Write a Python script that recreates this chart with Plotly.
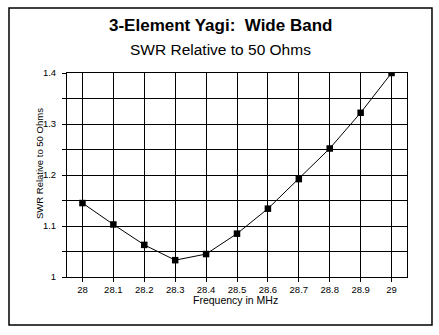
import plotly.graph_objects as go

# Frequency sweep (MHz) and measured SWR
freq_mhz = [28.0, 28.1, 28.2, 28.3, 28.4, 28.5, 28.6, 28.7, 28.8, 28.9, 29.0]
swr = [1.145, 1.103, 1.063, 1.033, 1.045, 1.085, 1.134, 1.192, 1.252, 1.322, 1.400]

x_ticks = [28.0, 28.1, 28.2, 28.3, 28.4, 28.5, 28.6, 28.7, 28.8, 28.9, 29.0]
x_tick_labels = ["28", "28.1", "28.2", "28.3", "28.4", "28.5", "28.6", "28.7", "28.8", "28.9", "29"]
y_ticks = [1.0, 1.05, 1.1, 1.15, 1.2, 1.25, 1.3, 1.35, 1.4]
y_tick_labels = ["1", "", "1.1", "", "1.2", "", "1.3", "", "1.4"]

title_text = "<b>3-Element Yagi:\u00a0 Wide Band</b>"
subtitle_text = "SWR Relative to 50 Ohms"
x_title = "Frequency in MHz"
y_title = "SWR Relative to 50 Ohms"

FONT = "Arial, Liberation Sans, sans-serif"

fig = go.Figure()
fig.add_trace(go.Scatter(
    x=freq_mhz, y=swr, mode="lines+markers",
    line=dict(color="black", width=1),
    marker=dict(symbol="square", size=6.5, color="black"),
    hoverinfo="x+y", showlegend=False,
))

axis_common = dict(
    showgrid=True, gridcolor="black", gridwidth=1,
    showline=True, linecolor="black", linewidth=1, mirror=True,
    ticks="outside", ticklen=4, tickcolor="black", tickwidth=1,
    tickfont=dict(family=FONT, size=9.5, color="black"),
    zeroline=False, fixedrange=True,
)

fig.update_xaxes(range=[27.95, 29.05], tickmode="array",
                 tickvals=x_ticks, ticktext=x_tick_labels, **axis_common)
fig.update_yaxes(range=[1.0, 1.4], tickmode="array",
                 tickvals=y_ticks, ticktext=y_tick_labels,
                 ticklabelstandoff=4, **axis_common)

fig.update_layout(
    width=439, height=335,
    margin=dict(l=67, r=32, t=73, b=58, pad=0),
    paper_bgcolor="white", plot_bgcolor="white",
    font=dict(family=FONT, color="black"),
    annotations=[
        dict(text=title_text, x=0.4515, y=1.232, xref="paper", yref="paper",
             showarrow=False, xanchor="center", yanchor="middle",
             font=dict(size=17, family=FONT, color="black")),
        dict(text=subtitle_text, x=0.4515, y=1.113, xref="paper", yref="paper",
             showarrow=False, xanchor="center", yanchor="middle",
             font=dict(size=15.5, family=FONT, color="black")),
        dict(text=x_title, x=0.4956, y=-0.113, xref="paper", yref="paper",
             showarrow=False, xanchor="center", yanchor="middle",
             font=dict(size=10.5, family=FONT, color="black")),
        dict(text=y_title, x=-0.0794, y=0.554, xref="paper", yref="paper",
             showarrow=False, xanchor="center", yanchor="middle", textangle=-90,
             font=dict(size=9.5, family=FONT, color="black")),
    ],
    shapes=[
        dict(type="rect", xref="paper", yref="paper",
             x0=-0.1706, x1=1.0735, y0=-0.2353, y1=1.3186,
             line=dict(color="black", width=1.5), fillcolor="rgba(0,0,0,0)",
             layer="below"),
    ],
)

fig.write_html("out.html")
